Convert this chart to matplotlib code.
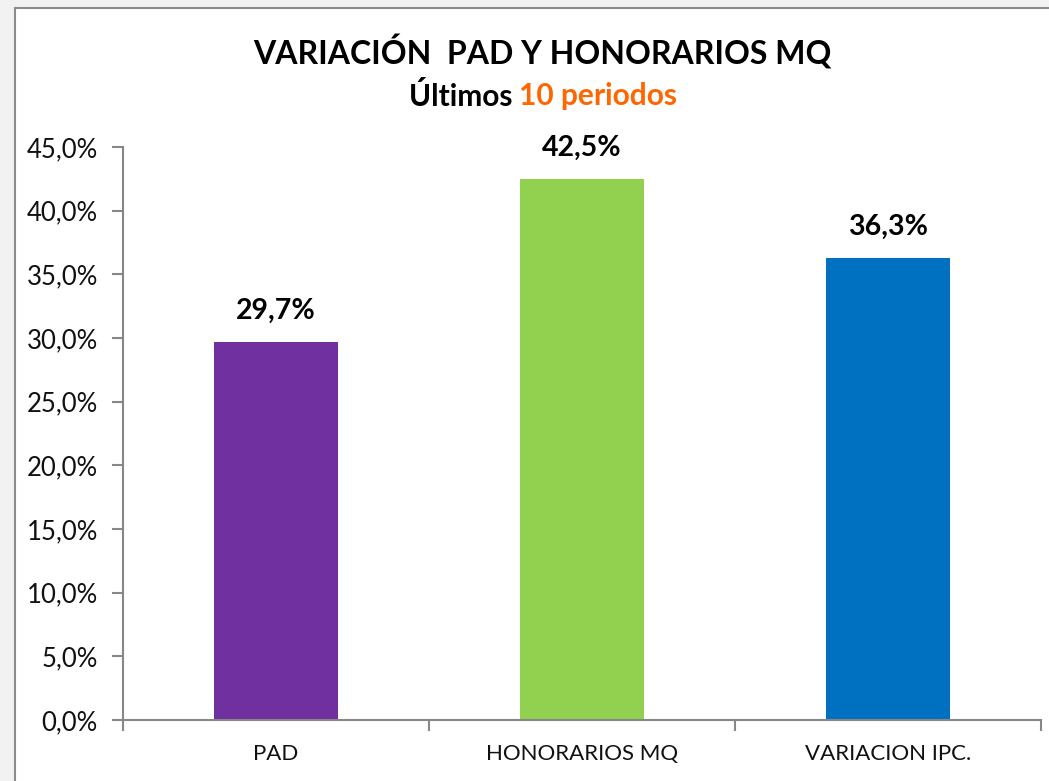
import matplotlib.pyplot as plt
from matplotlib.patches import Rectangle
from matplotlib.ticker import FuncFormatter

# datos
categorias = ['PAD', 'HONORARIOS MQ', 'VARIACION IPC.']
variacion = [0.297, 0.425, 0.363]
colores = ['#7030A0', '#92D050', '#0070C0']
yticks = [i * 0.05 for i in range(10)]

FONT = 'Lato'
GRIS = '#878787'

fig = plt.figure(figsize=(10.49, 7.81), dpi=100)
fig.patch.set_facecolor('#f2f2f2')

# marco blanco del grafico
fig.patches.append(Rectangle((15 / 1049, -0.05), 1.1, 1 - 8 / 781 + 0.05,
                             transform=fig.transFigure, facecolor='white',
                             edgecolor='#8c8c8c', linewidth=1.5, zorder=-1))

ax = fig.add_axes([123 / 1049, 1 - 720 / 781, (1041 - 123) / 1049, (720 - 147) / 781])
ax.set_zorder(1)
ax.set_facecolor('none')

x = range(len(categorias))
ax.bar(x, variacion, width=0.405, color=colores, zorder=2)

for i, v in enumerate(variacion):
    ax.annotate('{:.1f}%'.format(v * 100).replace('.', ','), (i, v),
                xytext=(0, 13), textcoords='offset points', ha='center', va='bottom',
                fontsize=20.5, fontweight='bold', family=FONT, color='black')

ax.set_xlim(-0.5, 2.5)
ax.set_ylim(0, 0.45)
ax.set_yticks(yticks)
ax.yaxis.set_major_formatter(FuncFormatter(lambda v, p: '{:.1f}%'.format(v * 100).replace('.', ',')))
ax.set_xticks(list(x))
ax.set_xticklabels(categorias)
ax.set_xticks([-0.5, 0.5, 1.5, 2.5], minor=True)

for s in ['top', 'right']:
    ax.spines[s].set_visible(False)
for s in ['left', 'bottom']:
    ax.spines[s].set_color(GRIS)
    ax.spines[s].set_linewidth(1.5)

ax.tick_params(axis='y', length=8, width=1.5, color=GRIS, pad=10, labelsize=18.5)
ax.tick_params(axis='x', which='major', length=0, pad=17, labelsize=16)
ax.tick_params(axis='x', which='minor', length=8, width=1.5, color=GRIS)
for lab in ax.get_yticklabels() + ax.get_xticklabels():
    lab.set_family(FONT)
    lab.set_color('#111111')

# titulos
fig.text(542 / 1049, 1 - 52 / 781, 'VARIACIÓN  PAD Y HONORARIOS MQ', ha='center', va='center',
         fontsize=23, fontweight='bold', family=FONT, color='black')

cx, cy = 543 / 1049, 1 - 96 / 781
t1 = fig.text(0, cy, 'Últimos ', ha='left', va='center', fontsize=21.5, fontweight='bold', family=FONT, color='black')
t2 = fig.text(0, cy, '10 periodos', ha='left', va='center', fontsize=21.5, fontweight='bold', family=FONT, color='#FF6600')
r = fig.canvas.get_renderer()
w1 = t1.get_window_extent(r).width / fig.bbox.width
w2 = t2.get_window_extent(r).width / fig.bbox.width
x0 = cx - (w1 + w2) / 2
t1.set_x(x0)
t2.set_x(x0 + w1)

fig.savefig('out.png', dpi=100, facecolor=fig.get_facecolor())
